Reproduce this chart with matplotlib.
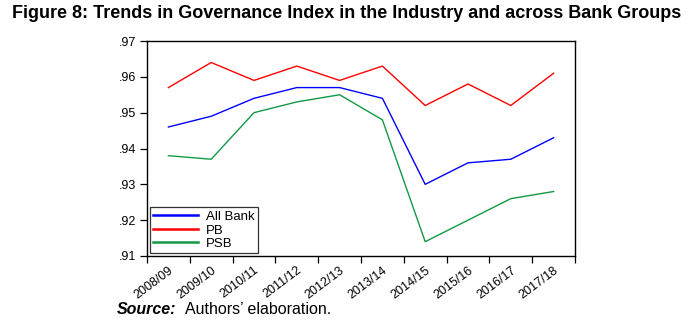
import matplotlib
matplotlib.use('Agg')
import matplotlib.pyplot as plt
import numpy as np

# Data
YEARS = ['2008/09', '2009/10', '2010/11', '2011/12', '2012/13',
         '2013/14', '2014/15', '2015/16', '2016/17', '2017/18']
ALL_BANK = [.946, .949, .954, .957, .957, .954, .930, .936, .937, .943]
PB = [.957, .964, .959, .963, .959, .963, .952, .958, .952, .961]
PSB = [.938, .937, .950, .953, .955, .948, .914, .920, .926, .928]
Y_TICKS = [.91, .92, .93, .94, .95, .96, .97]
Y_LABELS = ['.91', '.92', '.93', '.94', '.95', '.96', '.97']

plt.rcParams['font.family'] = ['Liberation Sans', 'DejaVu Sans']

fig = plt.figure(figsize=(6.94, 3.24), dpi=100)
ax = fig.add_axes([147 / 694, 1 - 256 / 324, 428 / 694, 215 / 324])

x = np.arange(len(YEARS))
ax.plot(x, ALL_BANK, color='#0000ff', lw=1.0, label='All Bank')
ax.plot(x, PB, color='#ff0000', lw=1.0, label='PB')
ax.plot(x, PSB, color='#119944', lw=1.0, label='PSB')

ax.set_xlim(-0.5, len(YEARS) - 0.5)
ax.set_ylim(.91, .97)

# ticks on the boundaries between years, labels centred on the years
ax.set_xticks(np.arange(len(YEARS) + 1) - 0.5)
ax.set_xticklabels([])
ax.set_xticks(x, minor=True)
ax.set_xticklabels(YEARS, minor=True, rotation=37, ha='right', va='top',
                   rotation_mode='anchor', fontsize=9)
ax.tick_params(axis='x', which='minor', length=0, pad=6)
ax.tick_params(axis='x', which='major', length=5, width=0.9, direction='out')

ax.set_yticks(Y_TICKS)
ax.set_yticklabels(Y_LABELS, fontsize=9)
ax.tick_params(axis='y', length=5, width=0.9, direction='out', pad=3)

for s in ax.spines.values():
    s.set_linewidth(1.0)

leg = ax.legend(loc='lower left', fontsize=9.5, frameon=True, fancybox=False,
                edgecolor='black', handlelength=3.4, borderpad=0.25,
                labelspacing=0.1, borderaxespad=0.2, handletextpad=0.6)
leg.get_frame().set_linewidth(0.9)
for h in leg.get_lines():
    h.set_linewidth(1.8)

fig.text(0.5, 1 - 13 / 324,
         'Figure 8: Trends in Governance Index in the Industry and across Bank Groups',
         ha='center', va='center', fontsize=13, fontweight='bold')

fig.text(117 / 694, 1 - 309 / 324, 'Source:', ha='left', va='center',
         fontsize=11.5, fontweight='bold', fontstyle='italic')
fig.text(185 / 694, 1 - 309 / 324, 'Authors\u2019 elaboration.', ha='left',
         va='center', fontsize=11.5)

fig.savefig('out.png', dpi=100)
